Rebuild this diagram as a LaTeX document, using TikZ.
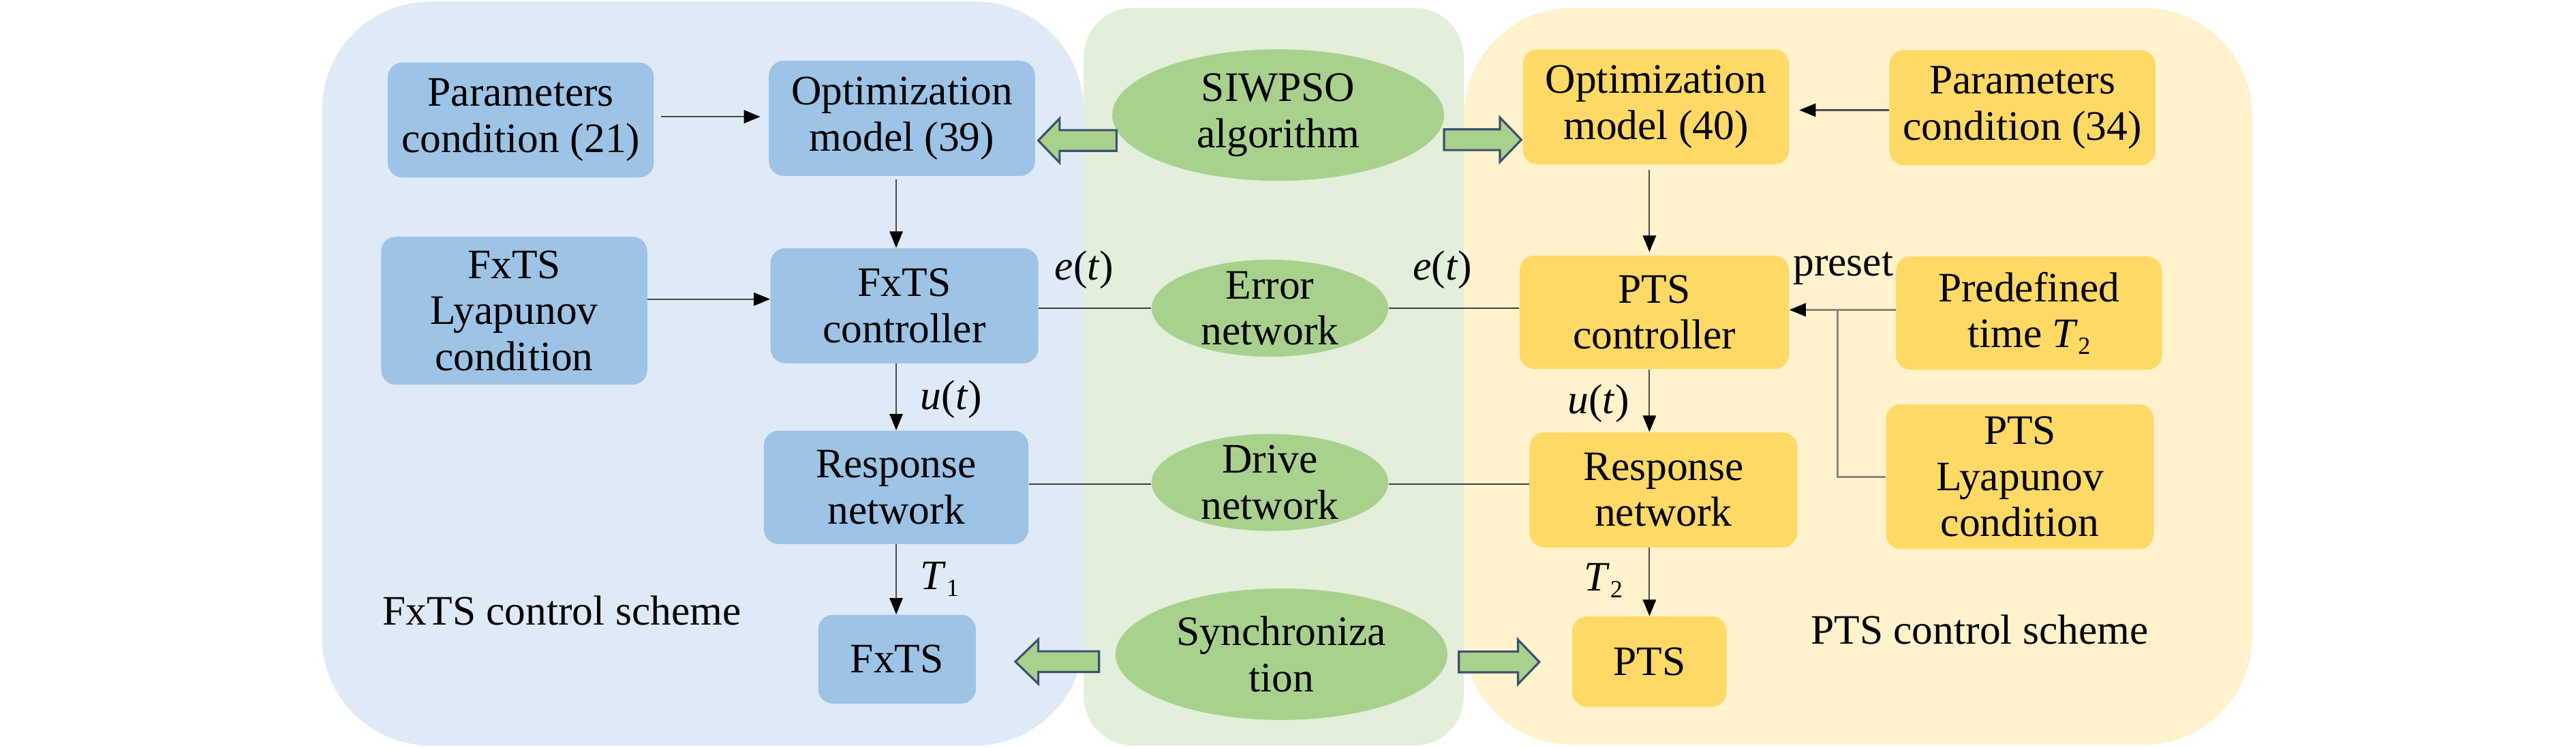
\documentclass[tikz,border=0pt]{standalone}
\usepackage{fontspec}
\setmainfont{Liberation Serif}
\usetikzlibrary{arrows.meta,shapes.geometric}
\definecolor{pblue}{HTML}{DEEAF6}
\definecolor{pgreen}{HTML}{E2EFDA}
\definecolor{pyellow}{HTML}{FFF2CC}
\definecolor{bblue}{HTML}{9DC3E6}
\definecolor{egreen}{HTML}{A9D18E}
\definecolor{byellow}{HTML}{FFD966}
\definecolor{aline}{HTML}{3E5170}
\definecolor{lgray}{HTML}{8C8678}
\newcommand\mysub[1]{\raisebox{-0.35ex}{\fontsize{15}{15}\selectfont #1}}
\newcommand\blockL[4]{\draw[barrowst] (#3,#4-6.3) -- (#2,#4-6.3) -- (#2,#4-13.5) -- (#1,#4) -- (#2,#4+13.5) -- (#2,#4+6.3) -- (#3,#4+6.3) -- cycle;}
\begin{document}
\begin{tikzpicture}[x=1pt,y=-1pt,
  txt/.style={font=\fontsize{25.5}{28}\selectfont, align=center, inner sep=0pt},
  bbox/.style={txt, rounded corners=9pt, fill=bblue},
  ybox/.style={txt, rounded corners=9pt, fill=byellow},
  gell/.style={ellipse, fill=egreen, inner sep=0pt},
  conn/.style={draw=black!70, line width=0.9pt, -{Triangle[length=10pt,width=8pt,color=black]}},
  plain/.style={draw=black!75, line width=0.9pt},
  grayline/.style={draw=lgray, line width=1.2pt},
  barrowst/.style={fill=egreen, draw=aline, line width=1.3pt, line join=miter},
]
\useasboundingbox (0,0) rectangle (1568,455);
% panels
\fill[pblue, rounded corners=66pt] (196,1) rectangle (659.6,453.5);
\fill[pgreen, rounded corners=30pt] (659.6,4.8) rectangle (891,453.5);
\fill[pyellow, rounded corners=66pt] (891,4.8) rectangle (1371,453);

% blue boxes
\node[bbox, minimum width=162pt, minimum height=70pt] (p21) at (317,73) {Parameters\\condition (21)};
\node[bbox, minimum width=162pt, minimum height=70pt] (o39) at (549,72) {Optimization\\model (39)};
\node[bbox, minimum width=162pt, minimum height=90pt] (l1) at (313,189) {FxTS\\Lyapunov\\condition};
\node[bbox, minimum width=163pt, minimum height=70pt] (c1) at (550.5,186) {FxTS\\controller};
\node[bbox, minimum width=161pt, minimum height=69pt] (r1) at (545.5,296.5) {Response\\network};
\node[bbox, minimum width=96pt, minimum height=54pt] (f1) at (546,401) {FxTS};

% yellow boxes
\node[ybox, minimum width=162pt, minimum height=70pt] (o40) at (1008,65) {Optimization\\model (40)};
\node[ybox, minimum width=162pt, minimum height=70pt] (p34) at (1231,65.5) {Parameters\\condition (34)};
\node[ybox, minimum width=164pt, minimum height=69pt] (c2) at (1007,190) {PTS\\controller};
\node[ybox, minimum width=162pt, minimum height=69pt] (pt) at (1235,190.5) {Predefined\\time \textit{T}\mysub{2}};
\node[ybox, minimum width=163pt, minimum height=70pt] (r2) at (1012.5,298) {Response\\network};
\node[ybox, minimum width=163pt, minimum height=88pt] (l2) at (1229.5,290) {PTS\\Lyapunov\\condition};
\node[ybox, minimum width=94pt, minimum height=55pt] (f2) at (1004,402.5) {PTS};

% green ellipses
\node[gell, minimum width=202pt, minimum height=80pt, label={[txt]center:{SIWPSO\\algorithm}}] (siw) at (778,70) {};
\node[gell, minimum width=144pt, minimum height=59pt, label={[txt]center:{Error\\network}}] (err) at (773,187.5) {};
\node[gell, minimum width=144pt, minimum height=59pt, label={[txt]center:{Drive\\network}}] (drv) at (773,293.5) {};
\node[gell, minimum width=202pt, minimum height=80pt, label={[txt]center:{Synchroniza\\tion}}] (syn) at (780,398) {};

% labels
\node[txt] (et1) at (660,164) {\textit{e}(\textit{t})};
\node[txt] (et2) at (878,164) {\textit{e}(\textit{t})};
\node[txt] (ut1) at (579,243) {\textit{u}(\textit{t})};
\node[txt] (ut2) at (973,245.5) {\textit{u}(\textit{t})};
\node[txt] (tl1) at (572,352.5) {\textit{T}\mysub{1}};
\node[txt] (tl2) at (976,353) {\textit{T}\mysub{2}};
\node[txt] (pre) at (1122,163.4) {preset};
\node[txt] (sch1) at (342,371.3) {FxTS control scheme};
\node[txt] (sch2) at (1205,383) {PTS control scheme};

% thin arrows
\draw[conn, shorten <=4pt, shorten >=5pt] ([yshift=2pt]p21.east) -- ([yshift=2pt]p21.east -| o39.west);
\draw[conn, shorten <=2pt] (o39.south -| r1.north) -- (c1.north -| r1.north);
\draw[conn] ([yshift=4pt]c1.west -| l1.east) -- ([yshift=4pt]c1.west);
\draw[conn] (c1.south -| r1.north) -- (r1.north);
\draw[conn] (r1.south) -- (r1.south |- f1.north);

\draw[conn, shorten >=6pt] ([yshift=-1.5pt]p34.west) -- ([yshift=-1.5pt]p34.west -| o40.east);
\draw[conn, shorten <=3pt, shorten >=2pt] (o40.south -| f2.north) -- (c2.north -| f2.north);
\draw[conn] (c2.south -| f2.north) -- (r2.north -| f2.north);
\draw[conn] (r2.south -| f2.north) -- (f2.north);

\coordinate (jx) at (1118.7,0);
\draw[grayline] (l2.west) -| ([yshift=2pt]jx |- pt.west);
\draw[grayline, -{Triangle[length=10pt,width=8pt,color=black]}] ([yshift=2pt]pt.west) -- ([yshift=2pt]pt.west -| c2.east);

% plain connectors
\draw[plain] (err.west -| c1.east) -- (err.west);
\draw[plain] (err.east) -- (err.east -| c2.west);
\draw[plain] ([yshift=-1pt]drv.west -| r1.east) -- ([yshift=-1pt]drv.west);
\draw[plain] ([yshift=-1pt]drv.east) -- ([yshift=-1pt]drv.east -| r2.west);

% block arrows
\blockL{632}{645}{679.6}{85.5}
\blockL{926}{913}{879}{85}
\blockL{618}{632}{669}{402.5}
\blockL{937}{924}{888}{402.7}
\end{tikzpicture}
\end{document}
